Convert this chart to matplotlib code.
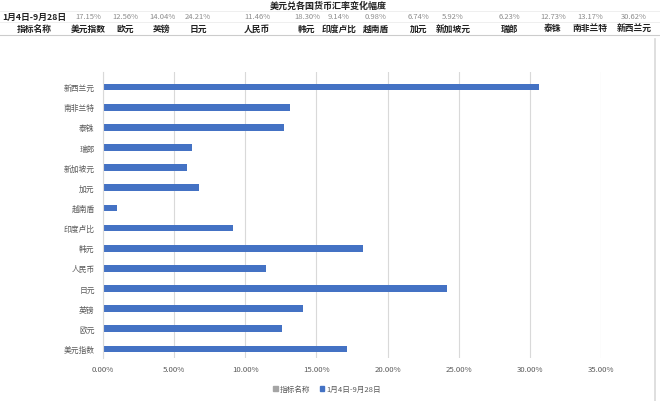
import matplotlib.pyplot as plt
from matplotlib.patches import Patch
from matplotlib.ticker import PercentFormatter

plt.rcParams['font.family'] = ['Noto Sans CJK SC', 'DejaVu Sans']

title = "美元兑各国货币汇率变化幅度"
period = "1月4日-9月28日"
header_name = "指标名称"
currencies = ["美元指数", "欧元", "英镑", "日元", "人民币", "韩元", "印度卢比",
              "越南盾", "加元", "新加坡元", "瑞郎", "泰铢", "南非兰特", "新西兰元"]
change = [17.15, 12.56, 14.04, 24.21, 11.46, 18.30, 9.14,
          0.98, 6.74, 5.92, 6.23, 12.73, 13.17, 30.62]
xticks = [0, 5, 10, 15, 20, 25, 30, 35]

# layout of the spreadsheet header (pixel centres of the columns)
col_x = [88, 125, 162, 198, 257, 307, 339, 376, 419, 453, 509, 553, 590, 634]

W, H = 660, 402
fig = plt.figure(figsize=(W / 100, H / 100), dpi=100)


def fx(px):
    return px / W


def fy(py):
    return 1 - py / H


# header table
fig.text(fx(328), fy(6), title, ha='center', va='center', fontsize=6.5,
         fontweight='bold', color='#222222')
fig.text(fx(34), fy(17), period, ha='center', va='center', fontsize=6.3,
         fontweight='bold', color='#222222')
fig.text(fx(34), fy(29), header_name, ha='center', va='center', fontsize=6.3,
         fontweight='bold', color='#222222')
for x, name, v in zip(col_x, currencies, change):
    fig.text(fx(x), fy(17), f"{v:.2f}%", ha='center', va='center',
             fontsize=5.5, color='#8c8c8c')
    fig.text(fx(x), fy(29), name, ha='center', va='center', fontsize=6.3,
             fontweight='bold', color='#222222')
fig.add_artist(plt.Line2D([0, 1], [fy(11.5), fy(11.5)], color='#ececec', lw=0.6))
fig.add_artist(plt.Line2D([0, 1], [fy(23), fy(23)], color='#ececec', lw=0.6))
fig.add_artist(plt.Line2D([0, 1], [fy(36), fy(36)], color='#cccccc', lw=0.8))
fig.add_artist(plt.Line2D([fx(655), fx(655)], [fy(40), 0], color='#d9d9d9', lw=1.2))

# bar chart
ax = fig.add_axes([fx(103), fy(359), fx(601) - fx(103), fy(73) - fy(359)])
ax.barh(range(len(currencies)), change, height=0.33, color='#4472C4')
ax.set_xlim(0, 35)
ax.set_ylim(-0.45, len(currencies) - 0.25)
ax.set_xticks(xticks)
ax.xaxis.set_major_formatter(PercentFormatter(decimals=2))
ax.set_yticks(range(len(currencies)))
ax.set_yticklabels(currencies)
ax.tick_params(axis='both', length=0, labelsize=5.6, labelcolor='#595959')
ax.tick_params(axis='x', pad=5)
ax.tick_params(axis='y', pad=6)
ax.grid(axis='x', color='#d9d9d9', lw=0.8)
ax.set_axisbelow(True)
for s in ['top', 'right', 'bottom']:
    ax.spines[s].set_visible(False)
ax.spines['left'].set_color('#d9d9d9')

handles = [Patch(color='#a5a5a5', label=header_name),
           Patch(color='#4472C4', label=period)]
fig.legend(handles=handles, loc='center', ncol=2, frameon=False,
           bbox_to_anchor=(fx(327), fy(390)), fontsize=5.5,
           handlelength=0.6, handleheight=0.6, handletextpad=0.3,
           columnspacing=1.2, labelcolor='#595959')

fig.savefig('out.png', dpi=100)
